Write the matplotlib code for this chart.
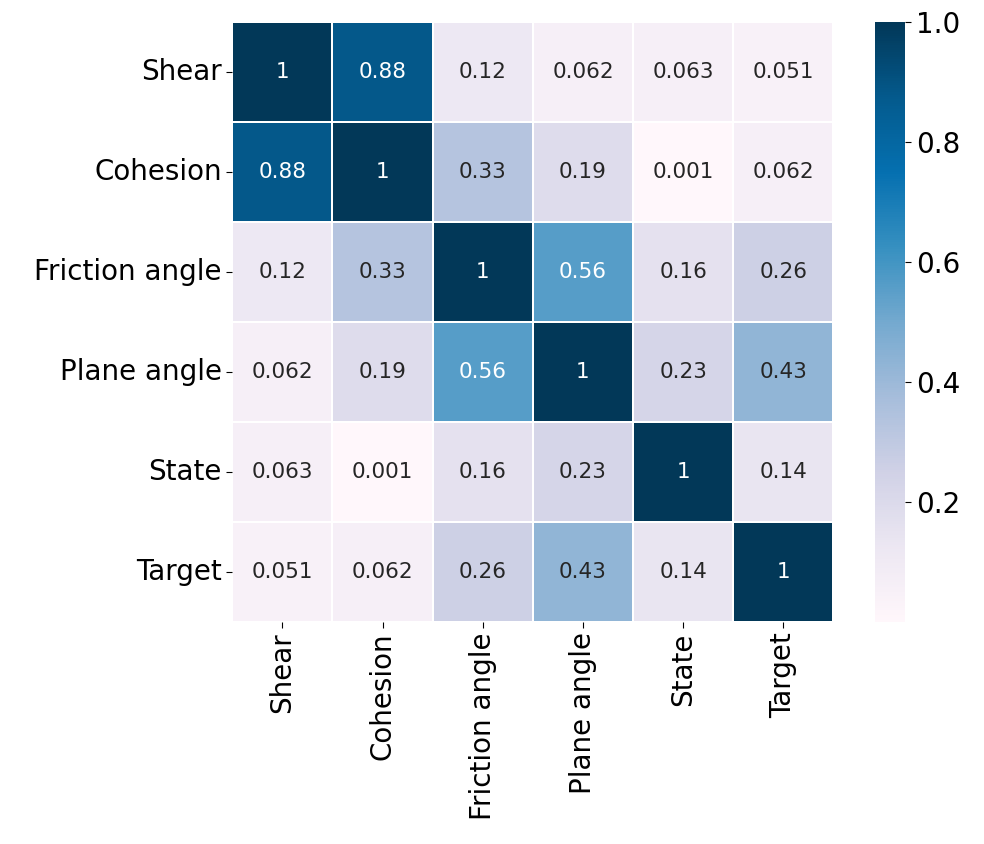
import numpy as np
import pandas as pd
import matplotlib
matplotlib.use("Agg")
import matplotlib.pyplot as plt
import seaborn as sns

# correlation matrix
labels = ["Shear", "Cohesion", "Friction angle", "Plane angle", "State", "Target"]
row_shear = [1, 0.88, 0.12, 0.062, 0.063, 0.051]
row_cohesion = [0.88, 1, 0.33, 0.19, 0.001, 0.062]
row_friction = [0.12, 0.33, 1, 0.56, 0.16, 0.26]
row_plane = [0.062, 0.19, 0.56, 1, 0.23, 0.43]
row_state = [0.063, 0.001, 0.16, 0.23, 1, 0.14]
row_target = [0.051, 0.062, 0.26, 0.43, 0.14, 1]

corr = pd.DataFrame([row_shear, row_cohesion, row_friction, row_plane, row_state, row_target],
                    index=labels, columns=labels)

fig = plt.figure(figsize=(9.84, 8.44), dpi=100)
ax = fig.add_axes([0.236, 0.263, 0.611, 0.711])
cax = fig.add_axes([0.889, 0.263, 0.031, 0.711])

sns.heatmap(corr, ax=ax, cbar_ax=cax, cmap="PuBu", annot=True,
            linewidths=1.2, linecolor="white", annot_kws={"size": 15.5})

ax.tick_params(axis="both", labelsize=20, length=4)
ax.set_xticklabels(labels, rotation=90)
ax.set_yticklabels(labels, rotation=0)
cax.tick_params(labelsize=20, length=4)
cax.set_yticks([0.2, 0.4, 0.6, 0.8, 1.0])

fig.savefig("out.png", dpi=100)
